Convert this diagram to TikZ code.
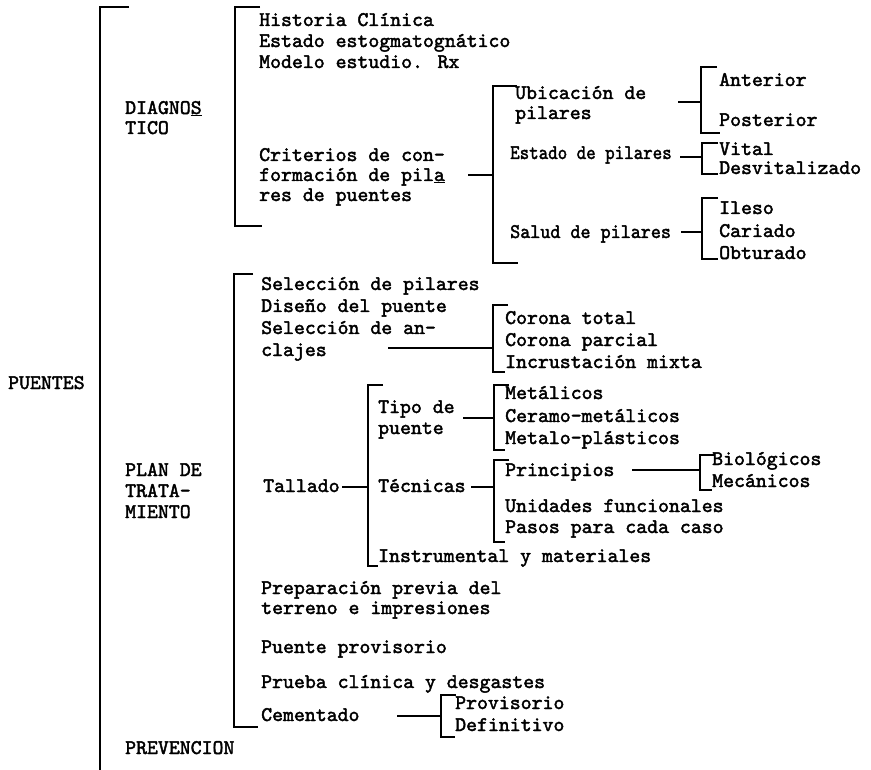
\documentclass[tikz,border=0pt]{standalone}
\usepackage{fontspec}
\usepackage{graphicx}
\newfontfamily\tw{lmmono10-regular.otf}[FakeBold=2]
\begin{document}
\begin{tikzpicture}[x=1pt,y=-1pt,
  t/.style={anchor=west, inner sep=0pt, font=\tw\fontsize{20.8}{22}\selectfont, text height=12pt, text depth=0pt},
  brk/.style={line width=1.3pt},
  con/.style={line width=1.3pt}]
\useasboundingbox (0,0) rectangle (871,770);

% ---------- level 0
\node[t] (puentes) at (8,383) {PUENTES};
\draw[brk] (129,7) -- (100,7) -- (100,770);

% ---------- DIAGNOSTICO
\node[t] (diagA) at (125,108) {DIAGNO\underline{S}};
\node[t] (diagB) at (125,128) {TICO};
\draw[brk] (260,7) -- (235,7) -- (235,226) -- (262,226);

\node[t] (hist) at (259,20) {Historia Clínica};
\node[t] (estg) at (259,41) {Estado estogmatognático};
\node[t] (mode) at (259,62) {Modelo estudio. Rx};
\node[t] (critA) at (259,155) {Criterios de con-};
\node[t] (critB) at (259,175) {formación de pil\underline{a}};
\node[t] (critC) at (259,195) {res de puentes};
\coordinate (critS) at (468,175);
\coordinate (critE) at (493,175);
\draw[con] (critS) -- (critE);
\draw[brk] (517,86) -- (493,86) -- (493,263) -- (518,263);

\node[t] (ubiA) at (515,93) {Ubicación de};
\node[t] (ubiB) at (515,113) {pilares};
\coordinate (ubiS) at (678,102);
\coordinate (ubiE) at (701,102);
\draw[con] (ubiS) -- (ubiE);
\draw[brk] (717,67) -- (701,67) -- (701,133) -- (720,133);
\node[t] (ant) at (719,80) {Anterior};
\node[t] (post) at (719,120) {Posterior};

\node[t] (estp) at (510,153) {\scalebox{0.87}[1]{Estado de pilares}};
\coordinate (estS) at (680,157);
\coordinate (estE) at (702,157);
\draw[con] (estS) -- (estE);
\draw[brk] (718,143) -- (702,143) -- (702,174) -- (718,174);
\node[t] (vital) at (719,149) {Vital};
\node[t] (desv) at (719,168) {Desvitalizado};

\node[t] (salp) at (510,232) {\scalebox{0.92}[1]{Salud de pilares}};
\coordinate (salS) at (681,232);
\coordinate (salE) at (702,232);
\draw[con] (salS) -- (salE);
\draw[brk] (718,198) -- (702,198) -- (702,259) -- (718,259);
\node[t] (ileso) at (719,208) {Ileso};
\node[t] (cari) at (719,231) {Cariado};
\node[t] (obtu) at (719,253) {Obturado};

% ---------- PLAN DE TRATAMIENTO
\node[t] (planA) at (125,470) {PLAN DE};
\node[t] (planB) at (125,491) {TRATA-};
\node[t] (planC) at (125,512) {MIENTO};
\draw[brk] (253,274) -- (234,274) -- (234,727) -- (258,727);

\node[t] (selp) at (261,284) {Selección de pilares};
\node[t] (dise) at (261,306) {Diseño del puente};
\node[t] (ancA) at (261,328) {Selección de an-};
\node[t] (ancB) at (261,350) {clajes};
\coordinate (ancS) at (388,348);
\coordinate (ancE) at (493,348);
\draw[con] (ancS) -- (ancE);
\draw[brk] (508,305) -- (493,305) -- (493,372) -- (505,372);
\node[t] (cort) at (505,318) {Corona total};
\node[t] (corp) at (505,340) {Corona parcial};
\node[t] (incr) at (505,362) {Incrustación mixta};

\node[t] (tall) at (263,486) {Tallado};
\coordinate (tallS) at (342,487);
\coordinate (tallE) at (368,487);
\draw[con] (tallS) -- (tallE);
\draw[brk] (383,385) -- (368,385) -- (368,566) -- (378,566);

\node[t] (tipoA) at (378,407) {Tipo de};
\node[t] (tipoB) at (378,428) {puente};
\coordinate (tipoS) at (463,418);
\coordinate (tipoE) at (494,418);
\draw[con] (tipoS) -- (tipoE);
\draw[brk] (509,385) -- (494,385) -- (494,450) -- (505,450);
\node[t] (meta) at (505,393) {Metálicos};
\node[t] (cera) at (505,416) {Ceramo-metálicos};
\node[t] (mepl) at (505,438) {Metalo-plásticos};

\node[t] (tecn) at (378,486) {Técnicas};
\coordinate (tecS) at (471,487);
\coordinate (tecE) at (494,487);
\draw[con] (tecS) -- (tecE);
\draw[brk] (509,460) -- (494,460) -- (494,542) -- (505,542);
\node[t] (prin) at (505,470) {Principios};
\node[t] (unid) at (505,506) {Unidades funcionales};
\node[t] (paso) at (505,527) {Pasos para cada caso};
\coordinate (prinS) at (632,470);
\coordinate (prinE) at (700,470);
\draw[con] (prinS) -- (prinE);
\draw[brk] (714,455) -- (700,455) -- (700,490) -- (712,490);
\node[t] (biol) at (712,459) {Biológicos};
\node[t] (meca) at (712,481) {Mecánicos};

\node[t] (inst) at (378,556) {Instrumental y materiales};

\node[t] (prepA) at (261,588) {Preparación previa del};
\node[t] (prepB) at (261,608) {terreno e impresiones};
\node[t] (pprov) at (261,647) {Puente provisorio};
\node[t] (prue) at (261,682) {Prueba clínica y desgastes};
\node[t] (ceme) at (261,715) {Cementado};
\coordinate (cemS) at (397,716);
\coordinate (cemE) at (441,716);
\draw[con] (cemS) -- (cemE);
\draw[brk] (456,695) -- (441,695) -- (441,737) -- (455,737);
\node[t] (prov) at (455,703) {Provisorio};
\node[t] (defi) at (455,725) {Definitivo};

% ---------- PREVENCION
\node[t] (prev) at (125,748) {PREVENCION};
\end{tikzpicture}
\end{document}
